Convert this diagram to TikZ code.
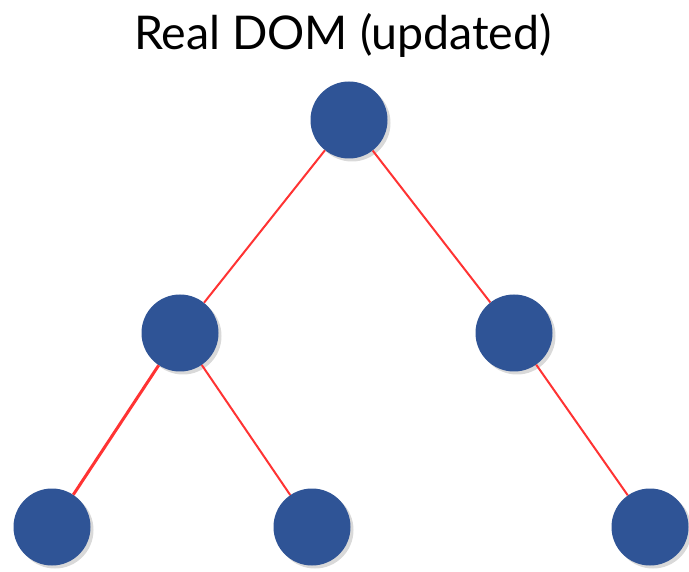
\documentclass[tikz,border=0pt]{standalone}
\usepackage{fontspec}
\setmainfont{Lato}
\usetikzlibrary{shadows}
\definecolor{domblue}{RGB}{47,84,150}
\definecolor{domred}{RGB}{255,51,51}
\tikzset{
	domnode/.style = {
		circle,
		fill = domblue,
		minimum size = 77pt,
		inner sep = 0pt,
		drop shadow = {shadow xshift = 3pt, shadow yshift = -3pt, opacity = 0.3}
	},
	link/.style = {
		draw = domred,
		line width = 2pt
	}
}

\begin{document}
\begin{tikzpicture}[x=1pt, y=-1pt]
    \useasboundingbox (0,0) rectangle (689,572) ;
    \node (title) at (343,35) {\fontsize{46.5}{52}\selectfont Real DOM (updated)} ;

    \node [domnode] (root) at (349,120) {} ;
    \node [domnode] (left) at (180,333) {} ;
    \node [domnode] (right) at (514,333) {} ;
    \node [domnode] (leftleft) at (52,527) {} ;
    \node [domnode] (leftright) at (312,527) {} ;
    \node [domnode] (rightright) at (650,527) {} ;

    \draw [link] (root) -- (left) ;
    \draw [link] (root) -- (right) ;
    \draw [link, line width = 3pt] (left) -- (leftleft) ;
    \draw [link] (left) -- (leftright) ;
    \draw [link] (right) -- (rightright) ;
\end{tikzpicture}
\end{document}
